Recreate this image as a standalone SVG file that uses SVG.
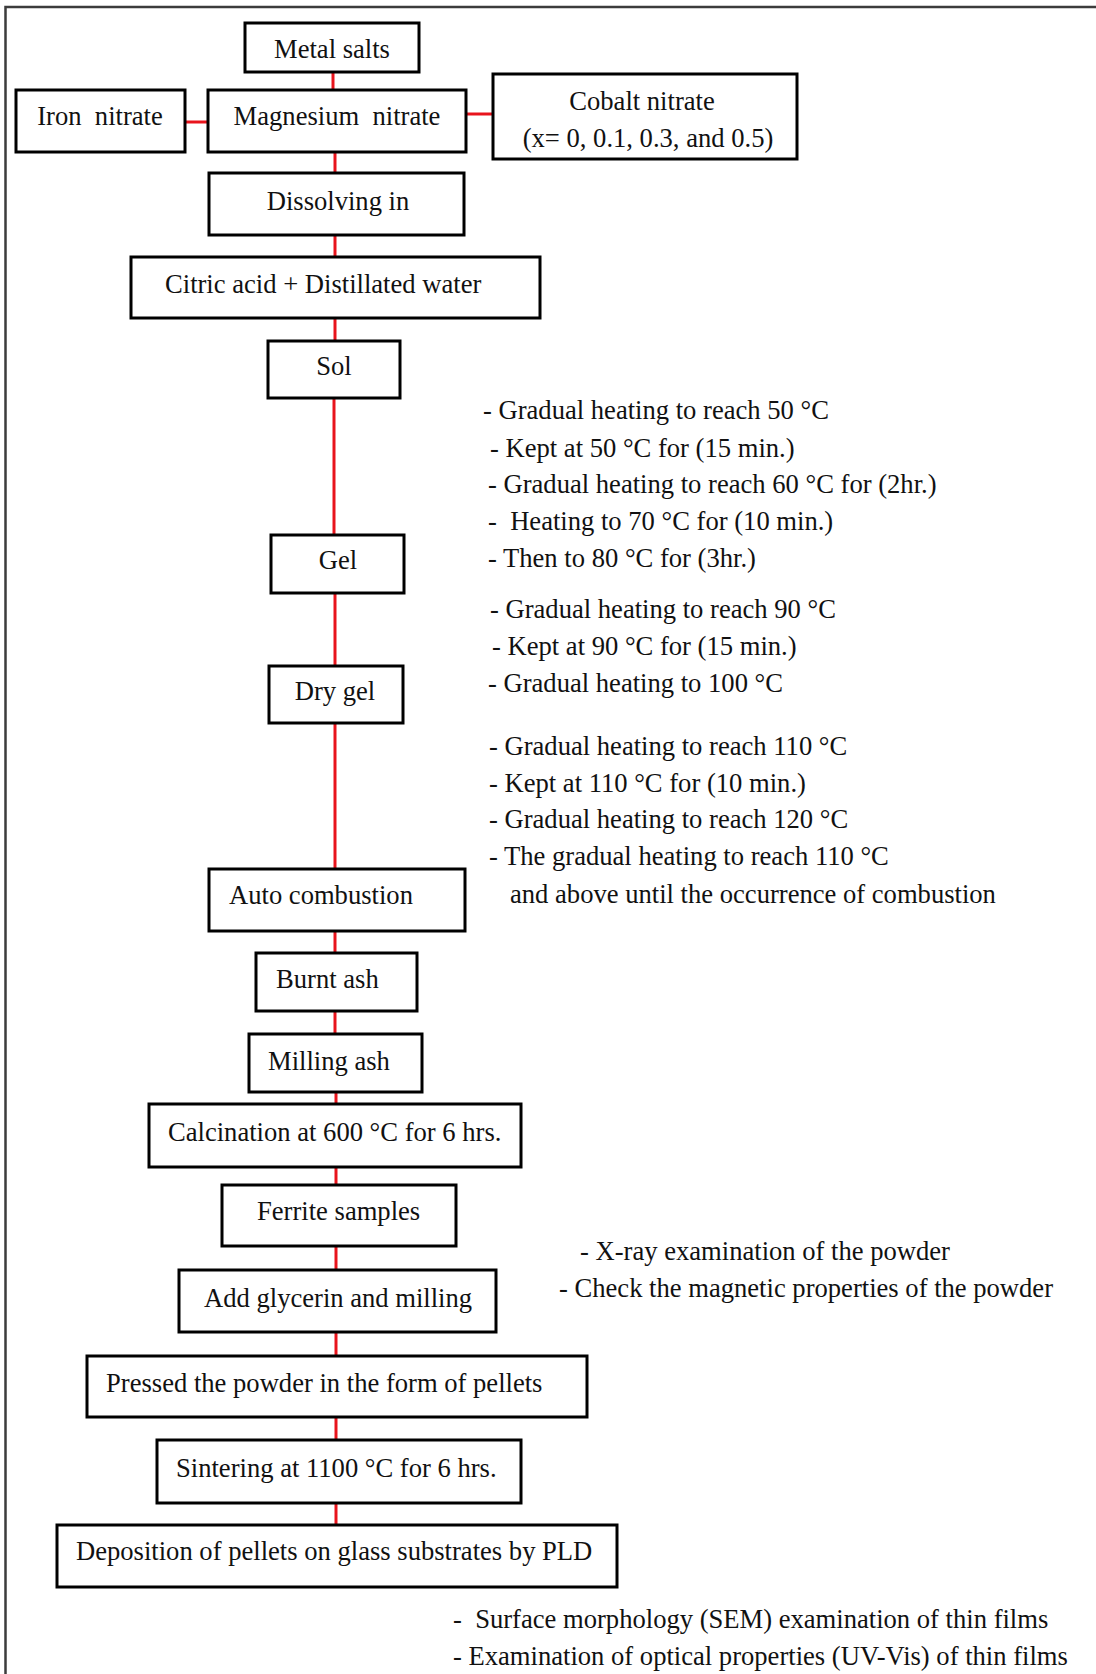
<svg xmlns="http://www.w3.org/2000/svg" width="1096" height="1674" viewBox="0 0 1096 1674">
<style>
.box{fill:#fff;stroke:#000;stroke-width:3}
.t{font-family:"Liberation Serif","Times New Roman",serif;font-size:26.6px;fill:#111;white-space:pre}
.c{text-anchor:middle}
.conn line{stroke:#e8141c;stroke-width:3}
</style>
<rect x="0" y="0" width="1096" height="1674" fill="#fff"/>
<path d="M5.5 1674 V7 H1096" fill="none" stroke="#3c3c3c" stroke-width="2.5"/>
<g class="conn">
<line x1="333" y1="72" x2="333" y2="90"/>
<line x1="185" y1="122" x2="208" y2="122"/>
<line x1="466" y1="114" x2="493" y2="114"/>
<line x1="335" y1="152" x2="335" y2="173"/>
<line x1="335" y1="235" x2="335" y2="257"/>
<line x1="335" y1="318" x2="335" y2="341"/>
<line x1="334" y1="398" x2="334" y2="535"/>
<line x1="335" y1="593" x2="335" y2="666"/>
<line x1="335" y1="723" x2="335" y2="869"/>
<line x1="335" y1="931" x2="335" y2="953"/>
<line x1="335" y1="1011" x2="335" y2="1034"/>
<line x1="336" y1="1092" x2="336" y2="1104"/>
<line x1="336" y1="1167" x2="336" y2="1185"/>
<line x1="336" y1="1246" x2="336" y2="1270"/>
<line x1="336" y1="1332" x2="336" y2="1356"/>
<line x1="336" y1="1417" x2="336" y2="1440"/>
<line x1="336" y1="1503" x2="336" y2="1525"/>
</g>
<g id="metal-salts"><rect class="box" x="245" y="23" width="174" height="49"/><text class="t c" x="332" y="58">Metal salts</text></g>
<g id="iron-nitrate"><rect class="box" x="16" y="90" width="169" height="62"/><text class="t c" x="100" y="125">Iron  nitrate</text></g>
<g id="magnesium-nitrate"><rect class="box" x="208" y="90" width="258" height="62"/><text class="t c" x="337" y="125">Magnesium  nitrate</text></g>
<g id="cobalt-nitrate"><rect class="box" x="493" y="74" width="304" height="85"/><text class="t c" x="642" y="110">Cobalt nitrate</text><text class="t c" x="648" y="147">(x= 0, 0.1, 0.3, and 0.5)</text></g>
<g id="dissolving"><rect class="box" x="209" y="173" width="255" height="62"/><text class="t c" x="338" y="210">Dissolving in</text></g>
<g id="citric"><rect class="box" x="131" y="257" width="409" height="61"/><text class="t" x="165" y="293">Citric acid + Distillated water</text></g>
<g id="sol"><rect class="box" x="268" y="341" width="132" height="57"/><text class="t c" x="334" y="375">Sol</text></g>
<g id="gel"><rect class="box" x="271" y="535" width="133" height="58"/><text class="t c" x="338" y="569">Gel</text></g>
<g id="dry-gel"><rect class="box" x="269" y="666" width="134" height="57"/><text class="t c" x="335" y="700">Dry gel</text></g>
<g id="auto-combustion"><rect class="box" x="209" y="869" width="256" height="62"/><text class="t" x="229" y="904">Auto combustion</text></g>
<g id="burnt-ash"><rect class="box" x="256" y="953" width="161" height="58"/><text class="t" x="276" y="988">Burnt ash</text></g>
<g id="milling-ash"><rect class="box" x="249" y="1034" width="173" height="58"/><text class="t" x="268" y="1070">Milling ash</text></g>
<g id="calcination"><rect class="box" x="149" y="1104" width="372" height="63"/><text class="t" x="168" y="1141">Calcination at 600 °C for 6 hrs.</text></g>
<g id="ferrite"><rect class="box" x="222" y="1185" width="234" height="61"/><text class="t" x="257" y="1220">Ferrite samples</text></g>
<g id="glycerin"><rect class="box" x="179" y="1270" width="317" height="62"/><text class="t" x="204" y="1307">Add glycerin and milling</text></g>
<g id="pressed"><rect class="box" x="87" y="1356" width="500" height="61"/><text class="t" x="106" y="1392">Pressed the powder in the form of pellets</text></g>
<g id="sintering"><rect class="box" x="157" y="1440" width="364" height="63"/><text class="t" x="176" y="1477">Sintering at 1100 °C for 6 hrs.</text></g>
<g id="deposition"><rect class="box" x="57" y="1525" width="560" height="62"/><text class="t" x="76" y="1560">Deposition of pellets on glass substrates by PLD</text></g>
<g id="notes">
<text class="t" x="483" y="419">- Gradual heating to reach 50 °C</text>
<text class="t" x="490" y="457">- Kept at 50 °C for (15 min.)</text>
<text class="t" x="488" y="493">- Gradual heating to reach 60 °C for (2hr.)</text>
<text class="t" x="488" y="530">-  Heating to 70 °C for (10 min.)</text>
<text class="t" x="488" y="567">- Then to 80 °C for (3hr.)</text>
<text class="t" x="490" y="618">- Gradual heating to reach 90 °C</text>
<text class="t" x="492" y="655">- Kept at 90 °C for (15 min.)</text>
<text class="t" x="488" y="692">- Gradual heating to 100 °C</text>
<text class="t" x="489" y="755">- Gradual heating to reach 110 °C</text>
<text class="t" x="489" y="792">- Kept at 110 °C for (10 min.)</text>
<text class="t" x="489" y="828">- Gradual heating to reach 120 °C</text>
<text class="t" x="489" y="865">- The gradual heating to reach 110 °C</text>
<text class="t" x="510" y="903">and above until the occurrence of combustion</text>
<text class="t" x="580" y="1260">- X-ray examination of the powder</text>
<text class="t" x="559" y="1297">- Check the magnetic properties of the powder</text>
<text class="t" x="453" y="1628">-  Surface morphology (SEM) examination of thin films</text>
<text class="t" x="453" y="1665">- Examination of optical properties (UV-Vis) of thin films</text>
</g>
</svg>
